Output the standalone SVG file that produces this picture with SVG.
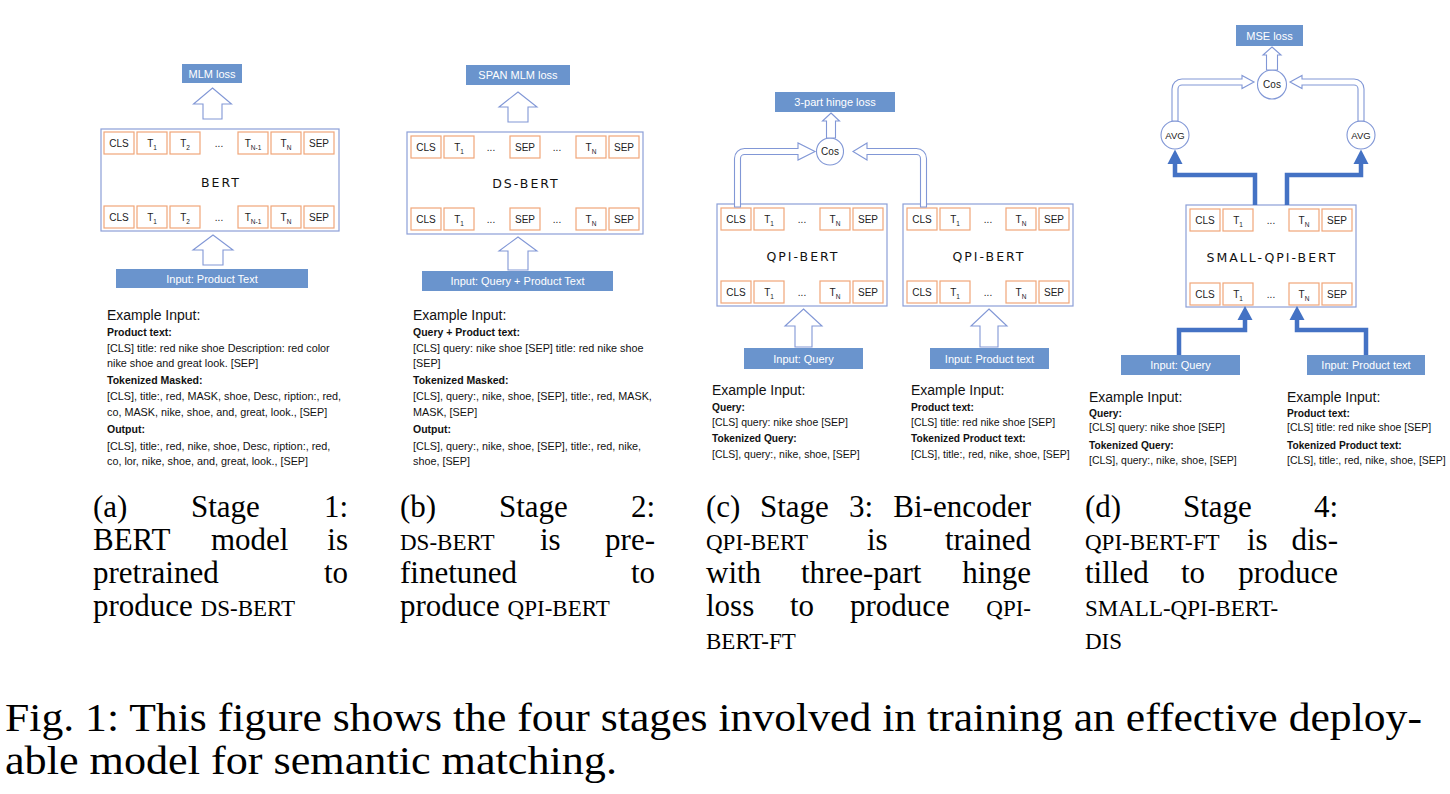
<svg xmlns="http://www.w3.org/2000/svg" width="1450" height="794" viewBox="0 0 1450 794">
<style>
.enc{fill:#fff;stroke:#8c9fd8;stroke-width:1.2}
.tok{fill:#fff;stroke:#f0a679;stroke-width:1.2}
.bb{fill:#6a94cd}
.ha{fill:#fff;stroke:#8197d6;stroke-width:1.1}
.circ{fill:#fff;stroke:#8197d6;stroke-width:1.1}
.thick{fill:none;stroke:#4472c4;stroke-width:4.5}
.thh{fill:#4472c4}
text{font-family:"Liberation Sans",Arial,sans-serif}
.tt{font-size:10px;fill:#222;text-anchor:middle}
.sub{font-size:6.5px}
.lbl{font-family:"DejaVu Sans",sans-serif;font-size:12.5px;letter-spacing:2px;text-anchor:middle;fill:#111}
.wt{font-size:11px;fill:#fff;text-anchor:middle}
.ct{font-size:10px;fill:#222;text-anchor:middle}
.ex{font-size:14px;fill:#111}
.b{font-size:10.5px;font-weight:bold;fill:#111}
.n{font-size:10.8px;fill:#111}
.b2{font-size:10.2px;font-weight:bold;fill:#111}
.n2{font-size:10.5px;fill:#111}
.cap{font-family:"Liberation Serif","Times New Roman",serif;font-size:31px;fill:#000}
.sc{font-size:23px}
.fig{font-family:"Liberation Serif","Times New Roman",serif;font-size:39px;fill:#000}
</style>

<!-- ================= Panel (a) ================= -->
<g id="a-loss">
  <rect class="bb" x="182" y="64" width="60" height="19"/>
  <text class="wt" x="212" y="77.5">MLM loss</text>
</g>
<g id="a-bert">
  <rect class="enc" x="101" y="129" width="238" height="102"/>
  <rect class="tok" x="104" y="132" width="30" height="22"/><text class="tt" x="119" y="146.5">CLS</text>
  <rect class="tok" x="137" y="132" width="30" height="22"/><text class="tt" x="152" y="146.5">T<tspan class="sub" dy="3">1</tspan></text>
  <rect class="tok" x="170" y="132" width="30" height="22"/><text class="tt" x="185" y="146.5">T<tspan class="sub" dy="3">2</tspan></text>
  <text class="tt" x="219" y="146.5">...</text>
  <rect class="tok" x="238" y="132" width="30" height="22"/><text class="tt" x="253" y="146.5">T<tspan class="sub" dy="3">N-1</tspan></text>
  <rect class="tok" x="271" y="132" width="30" height="22"/><text class="tt" x="286" y="146.5">T<tspan class="sub" dy="3">N</tspan></text>
  <rect class="tok" x="304" y="132" width="30" height="22"/><text class="tt" x="319" y="146.5">SEP</text>
  <text class="lbl" x="221" y="186.5">BERT</text>
  <rect class="tok" x="104" y="206" width="30" height="22"/><text class="tt" x="119" y="220.5">CLS</text>
  <rect class="tok" x="137" y="206" width="30" height="22"/><text class="tt" x="152" y="220.5">T<tspan class="sub" dy="3">1</tspan></text>
  <rect class="tok" x="170" y="206" width="30" height="22"/><text class="tt" x="185" y="220.5">T<tspan class="sub" dy="3">2</tspan></text>
  <text class="tt" x="219" y="220.5">...</text>
  <rect class="tok" x="238" y="206" width="30" height="22"/><text class="tt" x="253" y="220.5">T<tspan class="sub" dy="3">N-1</tspan></text>
  <rect class="tok" x="271" y="206" width="30" height="22"/><text class="tt" x="286" y="220.5">T<tspan class="sub" dy="3">N</tspan></text>
  <rect class="tok" x="304" y="206" width="30" height="22"/><text class="tt" x="319" y="220.5">SEP</text>
</g>
<g id="a-input">
  <rect class="bb" x="116" y="269" width="192" height="19"/>
  <text class="wt" x="212" y="282.5">Input: Product Text</text>
</g>
<g id="a-example">
  <text class="ex" x="107" y="320">Example Input:</text>
  <text class="b" x="107" y="335.5">Product text:</text>
  <text class="n" x="107" y="351.5">[CLS] title: red nike shoe Description: red color</text>
  <text class="n" x="107" y="367">nike shoe and great look. [SEP]</text>
  <text class="b" x="107" y="384">Tokenized Masked:</text>
  <text class="n" x="107" y="400">[CLS], title:, red, MASK, shoe, Desc, ription:, red,</text>
  <text class="n" x="107" y="415.5">co, MASK, nike, shoe, and, great, look., [SEP]</text>
  <text class="b" x="107" y="433">Output:</text>
  <text class="n" x="107" y="449.5">[CLS], title:, red, nike, shoe, Desc, ription:, red,</text>
  <text class="n" x="107" y="464.5">co, lor, nike, shoe, and, great, look., [SEP]</text>
</g>

<!-- ================= Panel (b) ================= -->
<g id="b-loss">
  <rect class="bb" x="466" y="65" width="104" height="20"/>
  <text class="wt" x="518" y="79">SPAN MLM loss</text>
</g>
<g id="b-dsbert">
  <rect class="enc" x="407" y="132" width="236" height="102"/>
  <rect class="tok" x="411" y="136" width="30" height="22"/><text class="tt" x="426" y="150.5">CLS</text>
  <rect class="tok" x="444" y="136" width="30" height="22"/><text class="tt" x="459" y="150.5">T<tspan class="sub" dy="3">1</tspan></text>
  <text class="tt" x="491" y="150.5">...</text>
  <rect class="tok" x="510" y="136" width="30" height="22"/><text class="tt" x="525" y="150.5">SEP</text>
  <text class="tt" x="557" y="150.5">...</text>
  <rect class="tok" x="576" y="136" width="30" height="22"/><text class="tt" x="591" y="150.5">T<tspan class="sub" dy="3">N</tspan></text>
  <rect class="tok" x="609" y="136" width="30" height="22"/><text class="tt" x="624" y="150.5">SEP</text>
  <text class="lbl" x="526" y="187.5">DS-BERT</text>
  <rect class="tok" x="411" y="208" width="30" height="22"/><text class="tt" x="426" y="222.5">CLS</text>
  <rect class="tok" x="444" y="208" width="30" height="22"/><text class="tt" x="459" y="222.5">T<tspan class="sub" dy="3">1</tspan></text>
  <text class="tt" x="491" y="222.5">...</text>
  <rect class="tok" x="510" y="208" width="30" height="22"/><text class="tt" x="525" y="222.5">SEP</text>
  <text class="tt" x="557" y="222.5">...</text>
  <rect class="tok" x="576" y="208" width="30" height="22"/><text class="tt" x="591" y="222.5">T<tspan class="sub" dy="3">N</tspan></text>
  <rect class="tok" x="609" y="208" width="30" height="22"/><text class="tt" x="624" y="222.5">SEP</text>
</g>
<g id="b-input">
  <rect class="bb" x="422" y="271" width="191" height="20"/>
  <text class="wt" x="517.5" y="285">Input: Query + Product Text</text>
</g>
<g id="b-example">
  <text class="ex" x="413" y="320">Example Input:</text>
  <text class="b" x="413" y="335.5">Query + Product text:</text>
  <text class="n" x="413" y="351.5">[CLS] query: nike shoe [SEP] title: red nike shoe</text>
  <text class="n" x="413" y="367">[SEP]</text>
  <text class="b" x="413" y="384">Tokenized Masked:</text>
  <text class="n" x="413" y="400">[CLS], query:, nike, shoe, [SEP], title:, red, MASK,</text>
  <text class="n" x="413" y="415.5">MASK, [SEP]</text>
  <text class="b" x="413" y="433">Output:</text>
  <text class="n" x="413" y="449.5">[CLS], query:, nike, shoe, [SEP], title:, red, nike,</text>
  <text class="n" x="413" y="464.5">shoe, [SEP]</text>
</g>

<!-- ================= Panel (c) ================= -->
<g id="c-loss">
  <rect class="bb" x="775" y="92" width="120" height="20"/>
  <text class="wt" x="835" y="106">3-part hinge loss</text>
</g>
<g id="c-cos">
  <circle class="circ" cx="830" cy="151.5" r="13.5"/>
  <text class="ct" x="830" y="155">Cos</text>
</g>
<g id="c-qpi-left">
  <rect class="enc" x="717" y="204" width="170" height="102"/>
  <rect class="tok" x="721" y="208" width="30" height="22"/><text class="tt" x="736" y="222.5">CLS</text>
  <rect class="tok" x="754" y="208" width="30" height="22"/><text class="tt" x="769" y="222.5">T<tspan class="sub" dy="3">1</tspan></text>
  <text class="tt" x="802" y="222.5">...</text>
  <rect class="tok" x="820" y="208" width="30" height="22"/><text class="tt" x="835" y="222.5">T<tspan class="sub" dy="3">N</tspan></text>
  <rect class="tok" x="853" y="208" width="30" height="22"/><text class="tt" x="868" y="222.5">SEP</text>
  <text class="lbl" x="803" y="260.5">QPI-BERT</text>
  <rect class="tok" x="721" y="281" width="30" height="22"/><text class="tt" x="736" y="295.5">CLS</text>
  <rect class="tok" x="754" y="281" width="30" height="22"/><text class="tt" x="769" y="295.5">T<tspan class="sub" dy="3">1</tspan></text>
  <text class="tt" x="802" y="295.5">...</text>
  <rect class="tok" x="820" y="281" width="30" height="22"/><text class="tt" x="835" y="295.5">T<tspan class="sub" dy="3">N</tspan></text>
  <rect class="tok" x="853" y="281" width="30" height="22"/><text class="tt" x="868" y="295.5">SEP</text>
</g>
<g id="c-qpi-right">
  <rect class="enc" x="903" y="204" width="170" height="102"/>
  <rect class="tok" x="907" y="208" width="30" height="22"/><text class="tt" x="922" y="222.5">CLS</text>
  <rect class="tok" x="940" y="208" width="30" height="22"/><text class="tt" x="955" y="222.5">T<tspan class="sub" dy="3">1</tspan></text>
  <text class="tt" x="988" y="222.5">...</text>
  <rect class="tok" x="1006" y="208" width="30" height="22"/><text class="tt" x="1021" y="222.5">T<tspan class="sub" dy="3">N</tspan></text>
  <rect class="tok" x="1039" y="208" width="30" height="22"/><text class="tt" x="1054" y="222.5">SEP</text>
  <text class="lbl" x="989" y="260.5">QPI-BERT</text>
  <rect class="tok" x="907" y="281" width="30" height="22"/><text class="tt" x="922" y="295.5">CLS</text>
  <rect class="tok" x="940" y="281" width="30" height="22"/><text class="tt" x="955" y="295.5">T<tspan class="sub" dy="3">1</tspan></text>
  <text class="tt" x="988" y="295.5">...</text>
  <rect class="tok" x="1006" y="281" width="30" height="22"/><text class="tt" x="1021" y="295.5">T<tspan class="sub" dy="3">N</tspan></text>
  <rect class="tok" x="1039" y="281" width="30" height="22"/><text class="tt" x="1054" y="295.5">SEP</text>
</g>
<g id="c-input-query">
  <rect class="bb" x="744" y="348" width="119" height="21"/>
  <text class="wt" x="803.5" y="362.5">Input: Query</text>
</g>
<g id="c-input-product">
  <rect class="bb" x="930" y="348" width="119" height="21"/>
  <text class="wt" x="989.5" y="362.5">Input: Product text</text>
</g>
<g id="c-example">
  <text class="ex" x="712" y="395">Example Input:</text>
  <text class="b2" x="712" y="411">Query:</text>
  <text class="n2" x="712" y="425.5">[CLS] query: nike shoe [SEP]</text>
  <text class="b2" x="712" y="442">Tokenized Query:</text>
  <text class="n2" x="712" y="458">[CLS], query:, nike, shoe, [SEP]</text>
  <text class="ex" x="911" y="395">Example Input:</text>
  <text class="b2" x="911" y="411">Product text:</text>
  <text class="n2" x="911" y="425.5">[CLS] title: red nike shoe [SEP]</text>
  <text class="b2" x="911" y="442">Tokenized Product text:</text>
  <text class="n2" x="911" y="458">[CLS], title:, red, nike, shoe, [SEP]</text>
</g>

<!-- ================= Panel (d) ================= -->
<g id="d-loss">
  <rect class="bb" x="1236" y="25" width="67" height="21"/>
  <text class="wt" x="1269.5" y="39.5">MSE loss</text>
</g>
<g id="d-cos">
  <circle class="circ" cx="1272" cy="84.5" r="14.5"/>
  <text class="ct" x="1272" y="88">Cos</text>
</g>
<g id="d-avg-left">
  <circle class="circ" cx="1175" cy="135" r="14"/>
  <text class="ct" x="1175" y="138.5" style="font-size:9.5px">AVG</text>
</g>
<g id="d-avg-right">
  <circle class="circ" cx="1361" cy="135" r="14"/>
  <text class="ct" x="1361" y="138.5" style="font-size:9.5px">AVG</text>
</g>
<g id="d-small">
  <rect class="enc" x="1186" y="205" width="170" height="102"/>
  <rect class="tok" x="1190" y="209" width="30" height="22"/><text class="tt" x="1205" y="223.5">CLS</text>
  <rect class="tok" x="1223" y="209" width="30" height="22"/><text class="tt" x="1238" y="223.5">T<tspan class="sub" dy="3">1</tspan></text>
  <text class="tt" x="1271" y="223.5">...</text>
  <rect class="tok" x="1289" y="209" width="30" height="22"/><text class="tt" x="1304" y="223.5">T<tspan class="sub" dy="3">N</tspan></text>
  <rect class="tok" x="1322" y="209" width="30" height="22"/><text class="tt" x="1337" y="223.5">SEP</text>
  <text class="lbl" x="1272" y="261.5">SMALL-QPI-BERT</text>
  <rect class="tok" x="1190" y="283" width="30" height="22"/><text class="tt" x="1205" y="297.5">CLS</text>
  <rect class="tok" x="1223" y="283" width="30" height="22"/><text class="tt" x="1238" y="297.5">T<tspan class="sub" dy="3">1</tspan></text>
  <text class="tt" x="1271" y="297.5">...</text>
  <rect class="tok" x="1289" y="283" width="30" height="22"/><text class="tt" x="1304" y="297.5">T<tspan class="sub" dy="3">N</tspan></text>
  <rect class="tok" x="1322" y="283" width="30" height="22"/><text class="tt" x="1337" y="297.5">SEP</text>
</g>
<g id="d-input-query">
  <rect class="bb" x="1121" y="355" width="119" height="20"/>
  <text class="wt" x="1180.5" y="369">Input: Query</text>
</g>
<g id="d-input-product">
  <rect class="bb" x="1307" y="355" width="118" height="20"/>
  <text class="wt" x="1366" y="369">Input: Product text</text>
</g>
<g id="d-example">
  <text class="ex" x="1089" y="402">Example Input:</text>
  <text class="b2" x="1089" y="416.5">Query:</text>
  <text class="n2" x="1089" y="431">[CLS] query: nike shoe [SEP]</text>
  <text class="b2" x="1089" y="448.5">Tokenized Query:</text>
  <text class="n2" x="1089" y="464">[CLS], query:, nike, shoe, [SEP]</text>
  <text class="ex" x="1287" y="402">Example Input:</text>
  <text class="b2" x="1287" y="416.5">Product text:</text>
  <text class="n2" x="1287" y="431">[CLS] title: red nike shoe [SEP]</text>
  <text class="b2" x="1287" y="448.5">Tokenized Product text:</text>
  <text class="n2" x="1287" y="464">[CLS], title:, red, nike, shoe, [SEP]</text>
</g>

<!-- ================= Connectors ================= -->
<g id="connectors">
  <path class="ha" d="M212.5,88 L231.5,104 L222,104 L222,119 L203,119 L203,104 L193.5,104 Z"/>
  <path class="ha" d="M213,235 L233,250 L223,250 L223,265 L203,265 L203,250 L193,250 Z"/>
  <path class="ha" d="M518,92 L537,107 L528,107 L528,122 L508,122 L508,107 L499,107 Z"/>
  <path class="ha" d="M518,237 L537,251 L528,251 L528,270 L508,270 L508,251 L499,251 Z"/>
  <path class="ha" d="M831,113 L839.5,121 L835.5,121 L835.5,138 L826.5,138 L826.5,121 L822.5,121 Z"/>
  <path class="ha" d="M734.5,207 V158.5 A10,10 0 0 1 744.5,148.5 H798 V143 L815,151.5 L798,160 V154.5 H744.5 A4,4 0 0 0 740.5,158.5 V207 Z"/>
  <path class="ha" d="M926.5,207 V158.5 A10,10 0 0 0 916.5,148.5 H867 V143 L853,151.5 L867,160 V154.5 H916.5 A4,4 0 0 1 920.5,158.5 V207 Z"/>
  <path class="ha" d="M803.5,309 L822,326 L812,326 L812,347 L795,347 L795,326 L785,326 Z"/>
  <path class="ha" d="M989,309 L1007,326 L998,326 L998,347 L980,347 L980,326 L971,326 Z"/>
  <path class="ha" d="M1272,47 L1281,55 L1277.5,55 L1277.5,70 L1266.5,70 L1266.5,55 L1263,55 Z"/>
  <path class="ha" d="M1172,121 V89 A10,10 0 0 1 1182,79 H1242 V75.5 L1254,82 L1242,88.5 V85 H1182 A4,4 0 0 0 1178,89 V121 Z"/>
  <path class="ha" d="M1364,121 V89 A10,10 0 0 0 1354,79 H1302 V75.5 L1290,82 L1302,88.5 V85 H1354 A4,4 0 0 1 1358,89 V121 Z"/>
  <path class="thick" d="M1255,205 V175 H1175 V163"/>
  <polygon class="thh" points="1167.5,164 1182.5,164 1175,149.5"/>
  <path class="thick" d="M1287,205 V175 H1361 V163"/>
  <polygon class="thh" points="1353.5,164 1368.5,164 1361,149.5"/>
  <path class="thick" d="M1179,355 V330 H1245 V319"/>
  <polygon class="thh" points="1237.5,320 1252.5,320 1245,306"/>
  <path class="thick" d="M1366,355 V330 H1297 V319"/>
  <polygon class="thh" points="1289.5,320 1304.5,320 1297,306"/>
</g>

<!-- ================= Captions ================= -->
<g id="caption-a">
  <text class="cap" x="93" y="517">(a)</text>
  <text class="cap" x="191" y="517">Stage</text>
  <text class="cap" x="348" y="517" text-anchor="end">1:</text>
  <text class="cap" x="93" y="550">BERT</text>
  <text class="cap" x="211" y="550">model</text>
  <text class="cap" x="348" y="550" text-anchor="end">is</text>
  <text class="cap" x="93" y="583">pretrained</text>
  <text class="cap" x="348" y="583" text-anchor="end">to</text>
  <text class="cap" x="93" y="616">produce <tspan class="sc">DS-BERT</tspan></text>
</g>
<g id="caption-b">
  <text class="cap" x="400" y="517">(b)</text>
  <text class="cap" x="499" y="517">Stage</text>
  <text class="cap" x="655" y="517" text-anchor="end">2:</text>
  <text class="cap sc" x="400" y="550">DS-BERT</text>
  <text class="cap" x="540" y="550">is</text>
  <text class="cap" x="655" y="550" text-anchor="end">pre-</text>
  <text class="cap" x="400" y="583">finetuned</text>
  <text class="cap" x="655" y="583" text-anchor="end">to</text>
  <text class="cap" x="400" y="616">produce <tspan class="sc">QPI-BERT</tspan></text>
</g>
<g id="caption-c">
  <text class="cap" x="706" y="517">(c)</text>
  <text class="cap" x="760" y="517">Stage</text>
  <text class="cap" x="849" y="517">3:</text>
  <text class="cap" x="1031" y="517" text-anchor="end">Bi-encoder</text>
  <text class="cap sc" x="706" y="550">QPI-BERT</text>
  <text class="cap" x="867" y="550">is</text>
  <text class="cap" x="1031" y="550" text-anchor="end">trained</text>
  <text class="cap" x="706" y="583">with</text>
  <text class="cap" x="801" y="583">three-part</text>
  <text class="cap" x="1031" y="583" text-anchor="end">hinge</text>
  <text class="cap" x="706" y="616">loss</text>
  <text class="cap" x="790" y="616">to</text>
  <text class="cap" x="850" y="616">produce</text>
  <text class="cap sc" x="1031" y="616" text-anchor="end">QPI-</text>
  <text class="cap sc" x="706" y="649">BERT-FT</text>
</g>
<g id="caption-d">
  <text class="cap" x="1085" y="517">(d)</text>
  <text class="cap" x="1183" y="517">Stage</text>
  <text class="cap" x="1338" y="517" text-anchor="end">4:</text>
  <text class="cap sc" x="1085" y="550">QPI-BERT-FT</text>
  <text class="cap" x="1247" y="550">is</text>
  <text class="cap" x="1338" y="550" text-anchor="end">dis-</text>
  <text class="cap" x="1085" y="583">tilled</text>
  <text class="cap" x="1181" y="583">to</text>
  <text class="cap" x="1338" y="583" text-anchor="end">produce</text>
  <text class="cap sc" x="1085" y="616">SMALL-QPI-BERT-</text>
  <text class="cap sc" x="1085" y="649">DIS</text>
</g>
<g id="figure-caption">
  <text class="fig" x="5" y="731" textLength="1417" lengthAdjust="spacingAndGlyphs">Fig. 1: This figure shows the four stages involved in training an effective deploy-</text>
  <text class="fig" x="5" y="774" textLength="612" lengthAdjust="spacingAndGlyphs">able model for semantic matching.</text>
</g>
</svg>
